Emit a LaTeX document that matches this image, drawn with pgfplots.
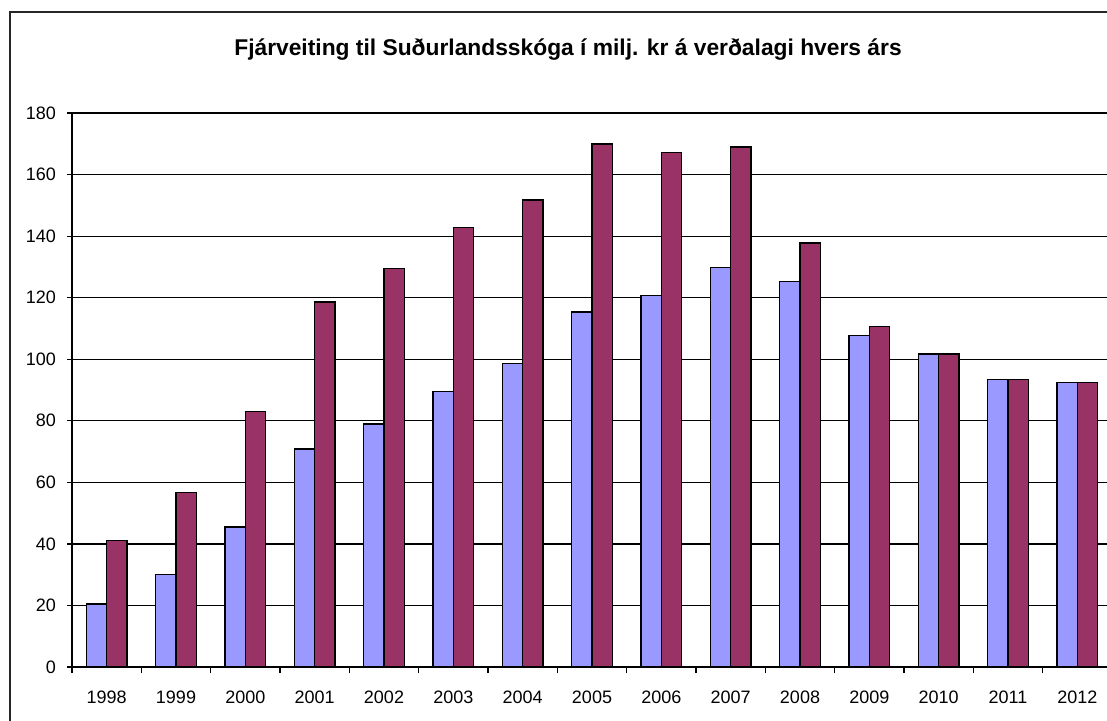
\documentclass[border=0pt]{standalone}
\usepackage{pgfplots}
\pgfplotsset{compat=1.18}
\usepackage{fontspec}
\setmainfont{Liberation Sans}
\definecolor{cblue}{HTML}{9999FF}
\definecolor{cmaroon}{HTML}{993366}
\pgfplotstableread{
x a b
0 20.5 41.1
1 30.0 56.7
2 45.5 83.1
3 70.8 118.6
4 79.0 129.4
5 89.6 142.8
6 98.6 151.7
7 115.4 169.9
8 120.8 167.1
9 129.8 168.9
10 125.2 137.8
11 107.8 110.7
12 101.7 101.7
13 93.4 93.4
14 92.4 92.4
}\datatable
\begin{document}
\begin{tikzpicture}
\useasboundingbox (0,0) rectangle (553.5pt,360pt);
\clip (0,0) rectangle (553.5pt,360pt);
\fill[white] (0,0) rectangle (553.5pt,360pt);
\draw[line width=0.8pt, black!85] (5pt,-10pt) rectangle (563pt,354pt);
\node[font=\bfseries\fontsize{11.4}{13}\selectfont] at (284pt,335pt) {Fjárveiting til Suðurlandsskóga í milj. kr á verðalagi hvers árs};
\begin{axis}[
  at={(36pt,26.5pt)}, anchor=south west,
  scale only axis, width=520pt, height=277pt,
  xmin=-0.5, xmax=14.5, ymin=0, ymax=180,
  ybar=0pt, bar width=10.15pt,
  axis x line*=bottom, axis y line*=left,
  axis line style={black, line width=0.6pt},
  ytick={0,20,...,180},
  ymajorgrids, grid style={black, line width=0.6pt},
  xtick={0,...,14},
  xticklabels={1998,1999,2000,2001,2002,2003,2004,2005,2006,2007,2008,2009,2010,2011,2012},
  minor xtick={-0.5,0.5,...,14.5},
  tick align=outside,
  xtick style={draw=none},
  minor x tick style={draw=black, line width=0.6pt},
  minor tick length=3pt,
  ytick style={black, line width=0.6pt},
  major tick length=2.5pt,
  tick label style={font=\fontsize{9}{11}\selectfont},
  xticklabel style={yshift=-6pt},
  yticklabel style={xshift=-2pt},
  /pgf/number format/assume math mode=true,
]
\addplot[fill=cblue, draw=black, line width=0.7pt] table[x=x,y=a]{\datatable};
\addplot[fill=cmaroon, draw=black, line width=0.7pt] table[x=x,y=b]{\datatable};
\end{axis}
\end{tikzpicture}
\end{document}
